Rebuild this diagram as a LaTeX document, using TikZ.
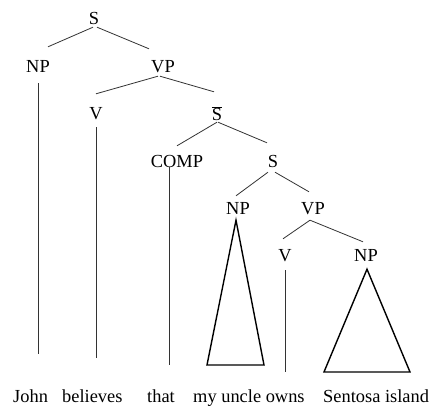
\documentclass[tikz,border=0pt]{standalone}
\usepackage{fontspec}
\setmainfont{Liberation Serif}
\begin{document}
\begin{tikzpicture}[x=1pt,y=-1pt,
  lab/.style={anchor=base,inner xsep=0pt,inner ysep=2pt,text height=21pt,text depth=1pt,font=\fontsize{18.4}{22}\selectfont},
  word/.style={anchor=base west,inner sep=0pt,font=\fontsize{18.4}{22}\selectfont},
  br/.style={draw=black!80,line width=0.8pt},
  tri/.style={draw=black,line width=1.4pt,line join=miter}]
\fill[white] (0,0) rectangle (432,406);
\useasboundingbox (0,0) rectangle (432,406);
% labels
\node[lab] (S0) at (94,25) {S};
\node[lab] (NP1) at (38,73) {NP};
\node[lab] (VP1) at (163,73) {VP};
\node[lab] (V1) at (96,120) {V};
\node[lab] (SB) at (217,121) {$\overline{\mbox{S}}$};
\node[lab] (COMP) at (177,168) {COMP};
\node[lab] (S2) at (273,168) {S};
\node[lab] (NP2) at (238,215) {NP};
\node[lab] (VP2) at (313,215) {VP};
\node[lab] (V2) at (285,262) {V};
\node[lab] (NP3) at (366,262) {NP};
% words
\node[word] (w1) at (13,403) {John};
\node[word] (w2) at (62,403) {believes};
\node[word] (w3) at (147,403) {that};
\node[word] (w4) at (193,403) {my uncle owns};
\node[word] (w5) at (323,403) {Sentosa island};
% free ends
\coordinate (e1) at (38,354);
\coordinate (e2) at (96,358);
\coordinate (e3) at (169,365);
\coordinate (e4) at (285,372);
\coordinate (t1l) at (207,365);
\coordinate (t1r) at (264,365);
\coordinate (t2l) at (324,372);
\coordinate (t2r) at (410,372);
% branches
\draw[br] ([shift={(-1,-1)}]S0.south) -- ([shift={(10,-3)}]NP1.north);
\draw[br] ([shift={(3,-1)}]S0.south) -- ([shift={(-14,-1)}]VP1.north);
\draw[br] ([shift={(-5,0)}]VP1.south) -- ([shift={(0,-3)}]V1.north);
\draw[br] ([shift={(-3,0)}]VP1.south) -- ([shift={(-3,-6)}]SB.north);
\draw[br] ([shift={(0,-2)}]SB.south) -- ([shift={(0,1)}]COMP.north);
\draw[br] ([shift={(1,-2)}]SB.south) -- ([shift={(-6,-2)}]S2.north);
\draw[br] ([shift={(-5,1)}]S2.south) -- ([shift={(-2,4)}]NP2.north);
\draw[br] ([shift={(2,1)}]S2.south) -- ([shift={(-4,0)}]VP2.north);
\draw[br] ([shift={(-3,2)}]VP2.south) -- ([shift={(-2,0)}]V2.north);
\draw[br] ([shift={(-3,2)}]VP2.south) -- ([shift={(-3,3)}]NP3.north);
% vertical lines
\draw[br] ([shift={(0,7)}]NP1.south) -- (e1);
\draw[br] ([shift={(0,4)}]V1.south) -- (e2);
\draw[br] ([shift={(-8,-4)}]COMP.south) -- (e3);
\draw[br] ([shift={(0,5)}]V2.south) -- (e4);
% triangles
\draw[tri] ([shift={(-2,2)}]NP2.south) -- (t1l) -- (t1r) -- cycle;
\draw[tri] ([shift={(1,4)}]NP3.south) -- (t2l) -- (t2r) -- cycle;
\end{tikzpicture}
\end{document}
